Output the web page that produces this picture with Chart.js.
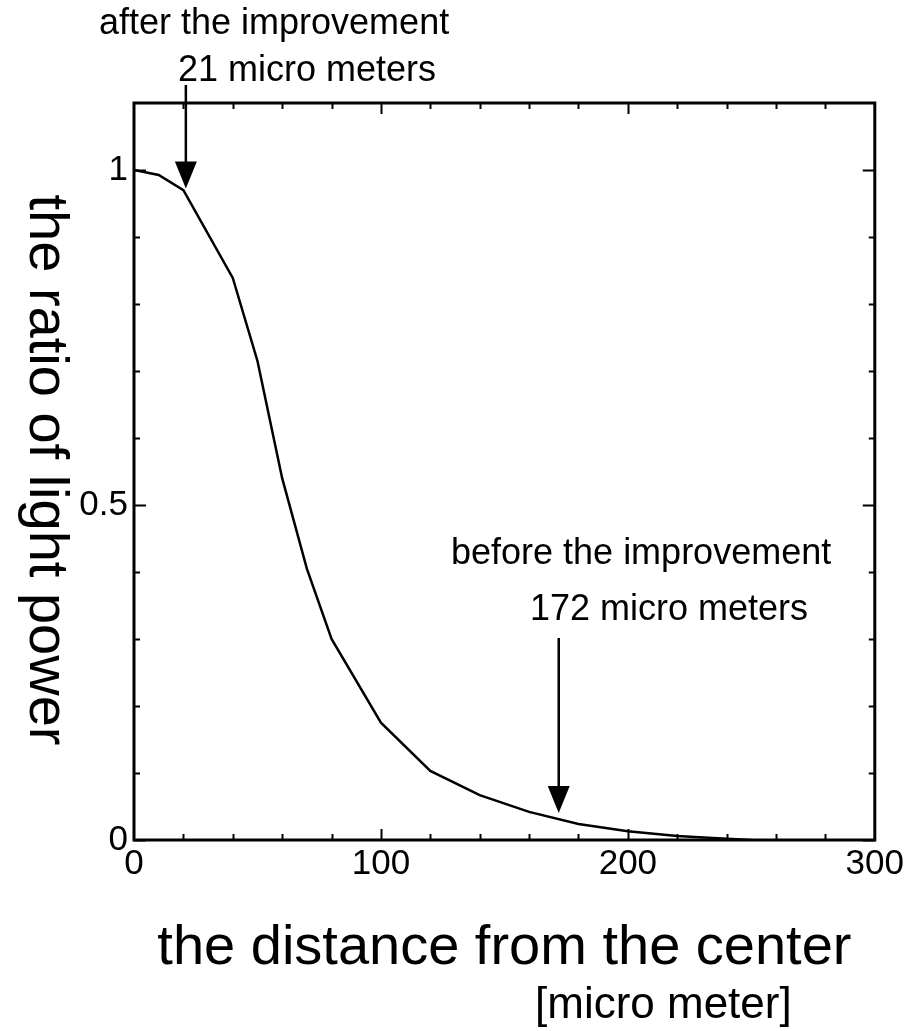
<!DOCTYPE html>
<html>
<head>
<meta charset="utf-8">
<script src="https://cdn.jsdelivr.net/npm/chart.js@4"></script>
<style>
html,body{margin:0;padding:0;background:#fff;}
#wrap{width:907px;height:1031px;position:relative;}
</style>
</head>
<body>
<div id="wrap"><canvas id="c" width="907" height="1031"></canvas></div>
<script>
// ---- data ----
const distance = [0, 10, 20, 40, 50, 60, 70, 80, 100, 120, 140, 160, 180, 200, 220, 240, 250];
const ratio    = [1.0, 0.9925, 0.970, 0.839, 0.715, 0.540, 0.405, 0.300, 0.175, 0.103, 0.067, 0.042, 0.024, 0.013, 0.006, 0.002, 0.0];
const xLabelValues = [0, 100, 200, 300];
const yLabelValues = [0, 0.5, 1];
const arrowAt = [21, 172];
const arrowText = [
  ["after the improvement", "21 micro meters"],
  ["before the improvement", "172 micro meters"]
];
const xTitle = "the distance from the center";
const xUnit = "[micro meter]";
const yTitle = "the ratio of light power";

const FONT = "'Liberation Sans', Arial, Helvetica, sans-serif";

function interp(x) {
  for (let i = 0; i < distance.length - 1; i++) {
    if (x >= distance[i] && x <= distance[i + 1]) {
      const t = (x - distance[i]) / (distance[i + 1] - distance[i]);
      return ratio[i] + t * (ratio[i + 1] - ratio[i]);
    }
  }
  return 0;
}

const decor = {
  id: 'decor',
  afterDraw(chart) {
    const ctx = chart.ctx;
    const a = chart.chartArea;
    const xs = chart.scales.x, ys = chart.scales.y;
    ctx.save();
    ctx.strokeStyle = '#000';
    ctx.fillStyle = '#000';
    // frame
    ctx.lineWidth = 3;
    ctx.strokeRect(a.left, a.top, a.right - a.left, a.bottom - a.top);
    // inward ticks
    ctx.lineWidth = 2;
    ys.ticks.forEach(t => {
      const v = t.value;
      if (v > 1.05) return;
      const major = yLabelValues.some(m => Math.abs(m - v) < 1e-6);
      const len = major ? 12 : 6;
      const p = Math.round(ys.getPixelForValue(v)) + 0.5;
      ctx.beginPath();
      ctx.moveTo(a.left, p); ctx.lineTo(a.left + len, p);
      ctx.moveTo(a.right, p); ctx.lineTo(a.right - len, p);
      ctx.stroke();
    });
    xs.ticks.forEach(t => {
      const v = t.value;
      if (v <= 0 || v >= 300) return;
      const major = xLabelValues.some(m => Math.abs(m - v) < 1e-6);
      const len = major ? 11 : 6;
      const p = Math.round(xs.getPixelForValue(v)) + 0.5;
      ctx.beginPath();
      ctx.moveTo(p, a.bottom); ctx.lineTo(p, a.bottom - len);
      ctx.moveTo(p, a.top); ctx.lineTo(p, a.top + len);
      ctx.stroke();
    });
    // arrows
    const starts = [85, 638];
    arrowAt.forEach((xv, i) => {
      const px = xs.getPixelForValue(xv);
      const tip = ys.getPixelForValue(interp(xv)) - 6;
      const headH = 27, headW = 11;
      ctx.lineWidth = 2.5;
      ctx.beginPath();
      ctx.moveTo(px, starts[i]);
      ctx.lineTo(px, tip - headH + 2);
      ctx.stroke();
      ctx.beginPath();
      ctx.moveTo(px - headW, tip - headH);
      ctx.lineTo(px + headW, tip - headH);
      ctx.lineTo(px, tip);
      ctx.closePath();
      ctx.fill();
    });
    // annotation texts
    ctx.font = "36px " + FONT;
    ctx.textAlign = 'left';
    ctx.textBaseline = 'alphabetic';
    ctx.fillText(arrowText[0][0], 99, 34);
    ctx.fillText(arrowText[0][1], 178, 81);
    ctx.fillText(arrowText[1][0], 451, 564);
    ctx.fillText(arrowText[1][1], 530, 620);
    // x title
    ctx.font = "56px " + FONT;
    ctx.textAlign = 'center';
    ctx.fillText(xTitle, (a.left + a.right) / 2, 964);
    ctx.font = "44px " + FONT;
    ctx.textAlign = 'left';
    ctx.fillText(xUnit, 535, 1018);
    // y title (reads top to bottom)
    ctx.save();
    ctx.translate(30, 470);
    ctx.rotate(Math.PI / 2);
    ctx.font = "56px " + FONT;
    ctx.textAlign = 'center';
    ctx.fillText(yTitle, 0, 0);
    ctx.restore();
    ctx.restore();
  }
};

new Chart(document.getElementById('c'), {
  type: 'line',
  data: {
    datasets: [{
      data: distance.map((d, i) => ({ x: d, y: ratio[i] })),
      borderColor: '#000',
      borderWidth: 2.5,
      pointRadius: 0,
      tension: 0,
      fill: false
    }]
  },
  options: {
    responsive: false,
    animation: false,
    layout: { padding: { top: 103, right: 31, left: 0, bottom: 0 } },
    plugins: { legend: { display: false }, tooltip: { enabled: false } },
    scales: {
      x: {
        type: 'linear',
        min: 0, max: 300,
        afterFit(s) { s.height = 191; },
        grid: { display: false, drawTicks: false },
        border: { display: false },
        ticks: {
          stepSize: 20,
          autoSkip: false,
          maxRotation: 0,
          padding: 3,
          color: '#000',
          font: { family: FONT, size: 35 },
          callback(v) { return xLabelValues.some(m => Math.abs(m - v) < 1e-6) ? String(v) : ''; }
        }
      },
      y: {
        type: 'linear',
        min: 0, max: 1.1,
        afterFit(s) { s.width = 134; },
        grid: { display: false, drawTicks: false },
        border: { display: false },
        ticks: {
          stepSize: 0.1,
          autoSkip: false,
          padding: 6,
          color: '#000',
          font: { family: FONT, size: 35 },
          callback(v) {
            const m = yLabelValues.find(m => Math.abs(m - v) < 1e-6);
            return m === undefined ? '' : String(m);
          }
        }
      }
    }
  },
  plugins: [decor]
});
</script>
</body>
</html>
